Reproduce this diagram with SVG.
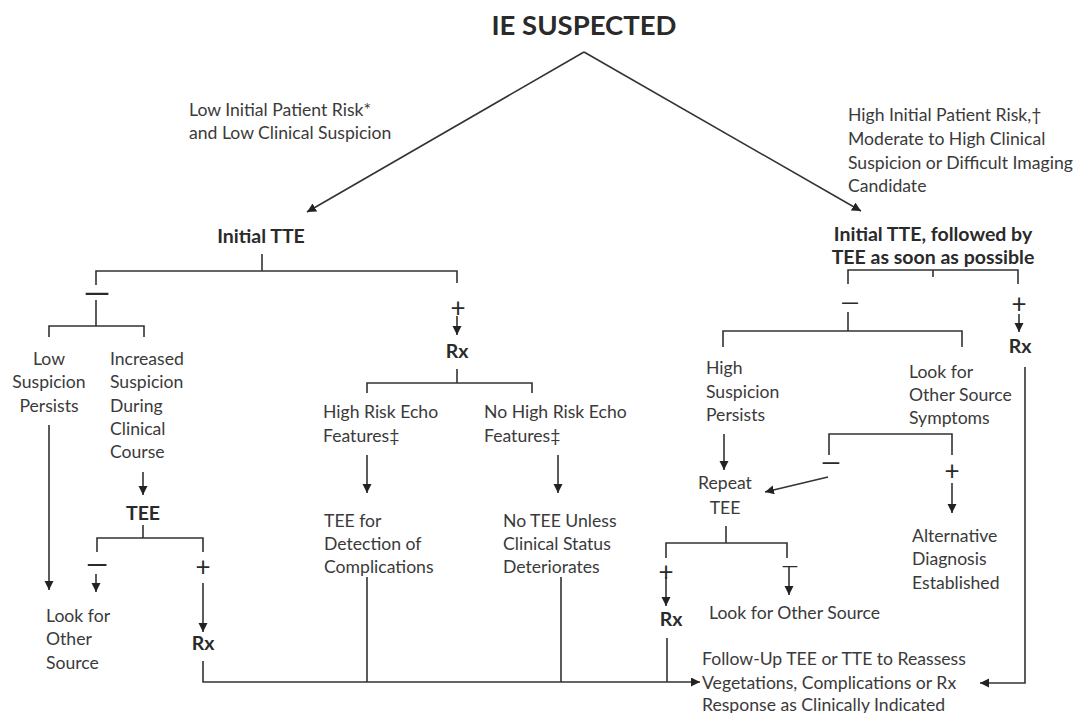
<svg xmlns="http://www.w3.org/2000/svg" width="1083" height="713" viewBox="0 0 1083 713">
<style>
text{font-family:Lato,"Liberation Sans",sans-serif;fill:#3a3a3a;font-size:17.6px}
.b{font-weight:700;fill:#2a2a2a;font-size:19.5px}
.c{text-anchor:middle}
.sg{font-size:26px;text-anchor:middle;fill:#2a2a2a}
.dash{text-anchor:middle;fill:#2a2a2a}
.ln{fill:none;stroke:#333;stroke-width:1.6}
</style>
<defs>
<marker id="ah" markerUnits="userSpaceOnUse" markerWidth="10" markerHeight="10" refX="9" refY="4.5" orient="auto">
<path d="M0,0 L9,4.5 L0,9 z" fill="#222"/>
</marker>
</defs>
<rect width="1083" height="713" fill="#fff"/>

<g id="connectors" class="ln">
<path class="ln" d="M584,52 L307,212" marker-end="url(#ah)"/>
<path class="ln" d="M584,52 L861,211" marker-end="url(#ah)"/>
<path class="ln" d="M262,254 V271"/>
<path class="ln" d="M96,285 V271 H457 V283"/>
<path class="ln" d="M96,300 V326"/>
<path class="ln" d="M49,337 V326 H144 V337"/>
<path class="ln" d="M49,425 V590" marker-end="url(#ah)"/>
<path class="ln" d="M143,472 V495" marker-end="url(#ah)"/>
<path class="ln" d="M143,525 V538"/>
<path class="ln" d="M97,552 V538 H203 V552"/>
<path class="ln" d="M96,574 V592" marker-end="url(#ah)"/>
<path class="ln" d="M203,583 V632" marker-end="url(#ah)"/>
<path class="ln" d="M203,661 V682 H700" marker-end="url(#ah)"/>
<path class="ln" d="M457,316 V335" marker-end="url(#ah)"/>
<path class="ln" d="M457,369 V383"/>
<path class="ln" d="M367,393 V383 H532 V393"/>
<path class="ln" d="M367,455 V493" marker-end="url(#ah)"/>
<path class="ln" d="M558,455 V493" marker-end="url(#ah)"/>
<path class="ln" d="M367,577 V682"/>
<path class="ln" d="M561,577 V682"/>
<path class="ln" d="M933,270 V277"/>
<path class="ln" d="M848,284 V270 H1018 V284"/>
<path class="ln" d="M848,312 V331"/>
<path class="ln" d="M723,347 V331 H962 V347"/>
<path class="ln" d="M1019,314 V332" marker-end="url(#ah)"/>
<path class="ln" d="M1025,367 V683 H980" marker-end="url(#ah)"/>
<path class="ln" d="M724,434 V470" marker-end="url(#ah)"/>
<path class="ln" d="M829,455 V434 H952 V455"/>
<path class="ln" d="M828,477 L765,492" marker-end="url(#ah)"/>
<path class="ln" d="M952,483 V513" marker-end="url(#ah)"/>
<path class="ln" d="M726,526 V543"/>
<path class="ln" d="M666,558 V543 H787 V558"/>
<path class="ln" d="M666,577 V606" marker-end="url(#ah)"/>
<path class="ln" d="M789,566 V595" marker-end="url(#ah)"/>
<path class="ln" d="M667,638 V682"/>
</g>

<g id="title"><text class="b c" x="584" y="35" style="font-size:27.5px">IE SUSPECTED</text></g>
<g id="low-risk"><text x="189" y="116">Low Initial Patient Risk*</text><text x="189" y="139">and Low Clinical Suspicion</text></g>
<g id="high-risk"><text x="848" y="121">High Initial Patient Risk,†</text><text x="848" y="145">Moderate to High Clinical</text><text x="848" y="169">Suspicion or Difficult Imaging</text><text x="848" y="192">Candidate</text></g>
<g id="initial-tte"><text class="b c" x="261" y="243">Initial TTE</text></g>
<g id="initial-tte-tee"><text class="b c" x="933" y="241">Initial TTE, followed by</text><text class="b c" x="933" y="264">TEE as soon as possible</text></g>

<g id="left-neg"><text class="dash" x="97" y="304" style="font-size:34px">—</text></g>
<g id="low-susp"><text class="c" x="49" y="365">Low</text><text class="c" x="49" y="388">Suspicion</text><text class="c" x="49" y="412">Persists</text></g>
<g id="inc-susp"><text x="110" y="365">Increased</text><text x="110" y="388">Suspicion</text><text x="110" y="412">During</text><text x="110" y="435">Clinical</text><text x="110" y="458">Course</text></g>
<g id="tee-left"><text class="b c" x="143" y="520">TEE</text></g>
<g id="tee-left-neg"><text class="dash" x="97" y="574" style="font-size:28px">—</text></g>
<g id="tee-left-pos"><text class="sg" x="203" y="576">+</text></g>
<g id="rx-left"><text class="b c" x="203" y="650">Rx</text></g>
<g id="look-left"><text x="46" y="622">Look for</text><text x="46" y="645">Other</text><text x="46" y="669">Source</text></g>

<g id="mid-pos"><text class="sg" x="458" y="317">+</text></g>
<g id="rx-mid"><text class="b c" x="457" y="358">Rx</text></g>
<g id="high-echo"><text x="323" y="418">High Risk Echo</text><text x="323" y="442">Features‡</text></g>
<g id="no-high-echo"><text x="484" y="418">No High Risk Echo</text><text x="484" y="442">Features‡</text></g>
<g id="tee-compl"><text x="324" y="527">TEE for</text><text x="324" y="550">Detection of</text><text x="324" y="573">Complications</text></g>
<g id="no-tee"><text x="503" y="527">No TEE Unless</text><text x="503" y="550">Clinical Status</text><text x="503" y="573">Deteriorates</text></g>

<g id="right-neg"><text class="dash" x="850" y="310" style="font-size:24px">—</text></g>
<g id="right-pos"><text class="sg" x="1019" y="313">+</text></g>
<g id="rx-right"><text class="b c" x="1020" y="353">Rx</text></g>
<g id="high-susp"><text x="706" y="374">High</text><text x="706" y="398">Suspicion</text><text x="706" y="421">Persists</text></g>
<g id="look-symptoms"><text x="909" y="378">Look for</text><text x="909" y="401">Other Source</text><text x="909" y="424">Symptoms</text></g>
<g id="sym-neg"><text class="dash" x="831" y="471" style="font-size:25px">—</text></g>
<g id="sym-pos"><text class="sg" x="952" y="480">+</text></g>
<g id="repeat-tee"><text class="c" x="725" y="489">Repeat</text><text class="c" x="725" y="514">TEE</text></g>
<g id="alt-diag"><text x="912" y="542">Alternative</text><text x="912" y="565">Diagnosis</text><text x="912" y="589">Established</text></g>
<g id="rep-pos"><text class="sg" x="666" y="581">+</text></g>
<g id="rep-neg"><text class="dash" x="790" y="573" style="font-size:22px">—</text></g>
<g id="rx-rep"><text class="b c" x="671" y="626">Rx</text></g>
<g id="look-other"><text x="709" y="619">Look for Other Source</text></g>
<g id="follow-up"><text x="702" y="665">Follow-Up TEE or TTE to Reassess</text><text x="702" y="689">Vegetations, Complications or Rx</text><text x="702" y="711">Response as Clinically Indicated</text></g>
</svg>
